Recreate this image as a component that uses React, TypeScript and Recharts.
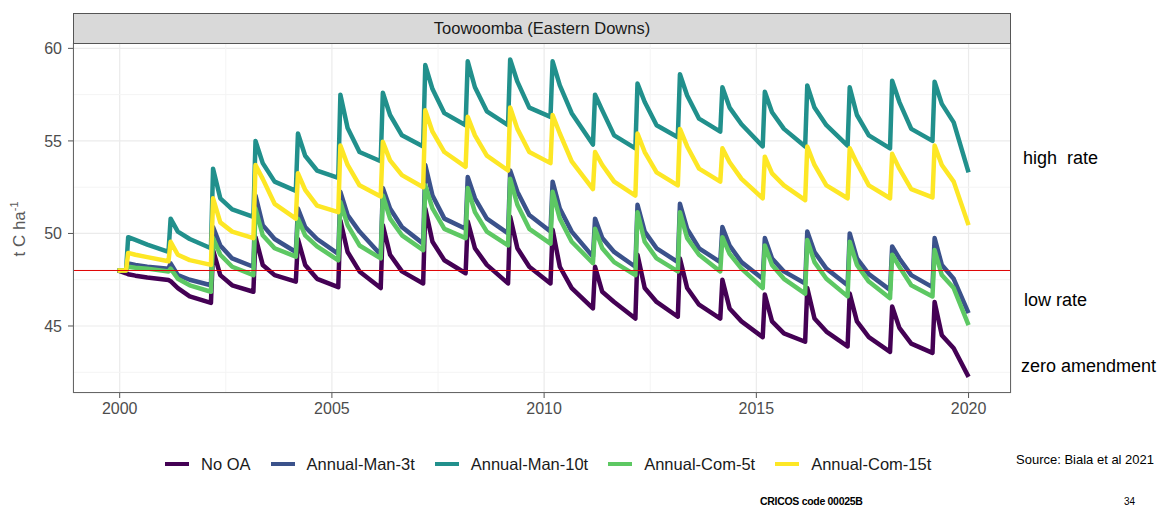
import React from "react";
import { CartesianGrid, Label, Line, LineChart, ReferenceLine, XAxis, YAxis } from "recharts";

// time points (decimal year): start, then per year pre-application, peak, knee, mid-decline; end
const times = [
  1999.95,
  2000.15, 2000.2, 2000.37, 2000.65,
  2001.15, 2001.2, 2001.37, 2001.65,
  2002.15, 2002.2, 2002.37, 2002.65,
  2003.15, 2003.2, 2003.37, 2003.65,
  2004.15, 2004.2, 2004.37, 2004.65,
  2005.15, 2005.2, 2005.37, 2005.65,
  2006.15, 2006.2, 2006.37, 2006.65,
  2007.15, 2007.2, 2007.37, 2007.65,
  2008.15, 2008.2, 2008.37, 2008.65,
  2009.15, 2009.2, 2009.37, 2009.65,
  2010.15, 2010.2, 2010.37, 2010.65,
  2011.15, 2011.2, 2011.37, 2011.65,
  2012.15, 2012.2, 2012.37, 2012.65,
  2013.15, 2013.2, 2013.37, 2013.65,
  2014.15, 2014.2, 2014.37, 2014.65,
  2015.15, 2015.2, 2015.37, 2015.65,
  2016.15, 2016.2, 2016.37, 2016.65,
  2017.15, 2017.2, 2017.37, 2017.65,
  2018.15, 2018.2, 2018.37, 2018.65,
  2019.15, 2019.2, 2019.37, 2019.65,
  2020.0,
];

const noOA = [
  48,
  47.85, 47.8, 47.72, 47.62,
  47.48, 47.42, 47.05, 46.6,
  46.25, 49.1, 47.75, 47.2,
  46.85, 49.8, 48.3, 47.75,
  47.4, 49.7, 48.3, 47.55,
  47.1, 50.7, 49.0, 47.95,
  47.05, 50.45, 48.85, 47.95,
  47.3, 51.35, 49.55, 48.55,
  47.85, 50.65, 49.2, 48.3,
  47.3, 50.9, 49.2, 48.2,
  47.3, 50.2, 48.2, 47.05,
  45.95, 48.2, 46.85, 46.3,
  45.4, 48.85, 47.05, 46.3,
  45.5, 48.65, 47.05, 46.15,
  45.4, 47.5, 45.95, 45.25,
  44.4, 46.7, 45.25, 44.6,
  44.15, 47.05, 45.4, 44.7,
  43.9, 46.75, 45.25, 44.4,
  43.6, 46.05, 44.9, 44.05,
  43.55, 46.3, 44.5, 43.8,
  42.25,
];

const man3t = [
  48,
  48, 48.38, 48.3, 48.2,
  48.1, 48.38, 47.75, 47.5,
  47.2, 50.35, 49.35, 48.65,
  48.2, 52.05, 50.45, 49.7,
  49.0, 51.35, 50.35, 49.7,
  48.9, 52.25, 51.0, 50.1,
  48.85, 52.45, 51.35, 50.35,
  49.45, 53.7, 52.05, 50.8,
  50.25, 53.05, 51.9, 50.8,
  50.0, 53.4, 52.25, 51.0,
  50.1, 52.8, 51.35, 50.1,
  48.75, 50.8, 49.75, 49.0,
  48.2, 51.55, 50.1, 49.2,
  48.45, 51.6, 50.25, 49.2,
  48.45, 50.35, 49.35, 48.45,
  47.55, 49.75, 48.65, 47.95,
  47.3, 50.1, 49.0, 48.1,
  47.2, 50.0, 48.65, 47.8,
  46.95, 49.3, 48.65, 47.75,
  47.1, 49.75, 48.3, 47.55,
  45.7,
];

const man10t = [
  48,
  48, 49.8, 49.65, 49.4,
  49.0, 50.8, 50.1, 49.7,
  49.2, 53.5, 51.9, 51.3,
  50.9, 55.0, 53.8, 52.8,
  52.3, 55.4, 54.2, 53.4,
  53.0, 57.5, 55.7, 54.4,
  53.9, 57.6, 56.4, 55.3,
  54.7, 59.1, 57.8, 56.5,
  55.85, 59.3, 57.9, 56.6,
  55.85, 59.4, 58.2, 56.8,
  56.3, 59.3, 58.0, 56.5,
  54.8, 57.5, 56.65, 55.3,
  54.6, 58.1, 57.1, 55.85,
  55.2, 58.6, 57.45, 56.2,
  55.5, 57.9, 56.8, 55.9,
  54.7, 57.65, 56.55, 55.65,
  54.7, 58.0, 56.8, 55.85,
  54.75, 57.9, 56.4, 55.3,
  54.6, 58.25, 57.1, 55.65,
  55.0, 58.2, 57.0, 56.0,
  53.3,
];

const com5t = [
  48,
  48, 48.2, 48.15, 48.1,
  47.95, 48.1, 47.55, 47.2,
  46.85, 49.75, 48.85, 48.2,
  47.75, 51.35, 49.9, 49.2,
  48.75, 50.8, 49.9, 49.3,
  48.55, 51.7, 50.45, 49.35,
  48.65, 52.05, 50.8, 49.9,
  49.1, 52.6, 51.35, 50.25,
  49.75, 52.45, 51.15, 50.1,
  49.35, 52.95, 51.55, 50.25,
  49.45, 52.25, 50.8, 49.55,
  48.4, 50.25, 49.2, 48.45,
  47.75, 51.15, 49.55, 48.65,
  47.95, 51.15, 49.75, 48.85,
  47.95, 49.8, 48.9, 48.1,
  47.05, 49.35, 48.3, 47.55,
  46.75, 49.65, 48.45, 47.55,
  46.6, 49.55, 48.3, 47.4,
  46.5, 48.85, 48.2, 47.2,
  46.6, 49.1, 47.75, 47.05,
  45.05,
];

const com15t = [
  48,
  48, 48.95, 48.85, 48.72,
  48.5, 49.55, 48.85, 48.56,
  48.3, 51.9, 50.6, 50.1,
  49.75, 53.7, 52.95, 51.6,
  50.8, 53.25, 52.35, 51.5,
  51.15, 54.75, 53.7, 52.6,
  52.0, 54.95, 53.95, 53.15,
  52.5, 56.65, 55.5, 54.4,
  53.6, 56.3, 55.3, 54.2,
  53.4, 56.8, 55.65, 54.4,
  53.8, 56.4, 55.4, 53.9,
  52.4, 54.4, 53.7, 52.8,
  52.05, 55.4, 54.4, 53.3,
  52.6, 55.65, 54.7, 53.5,
  52.8, 54.6, 53.85, 52.95,
  51.9, 54.15, 53.25, 52.6,
  51.8, 54.7, 53.7, 52.6,
  51.9, 54.6, 53.8, 52.6,
  51.9, 54.3, 53.5, 52.4,
  51.95, 54.75, 53.7, 52.8,
  50.45,
];

const seriesNames = ["No OA", "Annual-Man-3t", "Annual-Man-10t", "Annual-Com-5t", "Annual-Com-15t"];
const seriesKeys = ["noOA", "man3t", "man10t", "com5t", "com15t"];
const seriesColors = ["#440154", "#3b528b", "#21908c", "#5dc863", "#fde725"];

const xTicks = [2000, 2005, 2010, 2015, 2020];
const yTicks = [45, 50, 55, 60];
const xMinor = [2002.5, 2007.5, 2012.5, 2017.5];
const yMinor = [42.5, 47.5, 52.5, 57.5];
const baseline = 48;

const data = times.map((t, i) => ({
  t,
  noOA: noOA[i],
  man3t: man3t[i],
  man10t: man10t[i],
  com5t: com5t[i],
  com15t: com15t[i],
}));

const font = "'Liberation Sans', Arial, sans-serif";

const YLabel = () => (
  <text
    x={25}
    y={229}
    transform="rotate(-90, 25, 229)"
    textAnchor="middle"
    fill="#5a5a5a"
    fontSize={17}
    fontFamily={font}
  >
    t C ha
    <tspan dy={-7} fontSize={11}>-1</tspan>
  </text>
);

export default function App() {
  return (
    <div
      style={{
        position: "fixed",
        left: 0,
        top: 0,
        width: 1173,
        height: 509,
        overflow: "hidden",
        background: "#fff",
        fontFamily: font,
      }}
    >
      <div style={{ position: "absolute", left: 0, top: 0 }}>
        <LineChart width={1173} height={509} data={data} margin={{ top: 43, right: 162, bottom: 86, left: 13 }}>
          <CartesianGrid stroke="#ebebeb" strokeWidth={1.2} />
          {xMinor.map((v) => (
            <ReferenceLine key={"x" + v} x={v} stroke="#f4f4f4" strokeWidth={1} />
          ))}
          {yMinor.map((v) => (
            <ReferenceLine key={"y" + v} y={v} stroke="#f4f4f4" strokeWidth={1} />
          ))}
          <XAxis
            dataKey="t"
            type="number"
            domain={[1998.9, 2021.0]}
            ticks={xTicks}
            allowDataOverflow
            height={30}
            axisLine={false}
            tickSize={5}
            tickMargin={5}
            tickLine={{ stroke: "#555" }}
            tick={{ fontSize: 16, fill: "#4d4d4d", fontFamily: font }}
          />
          <YAxis
            type="number"
            domain={[41.38, 60.29]}
            ticks={yTicks}
            allowDataOverflow
            width={60}
            axisLine={false}
            tickSize={5}
            tickMargin={6}
            tickLine={{ stroke: "#555" }}
            tick={{ fontSize: 16, fill: "#4d4d4d", fontFamily: font }}
          >
            <Label content={YLabel} />
          </YAxis>
          {seriesKeys.map((k, i) => (
            <Line
              key={k}
              dataKey={k}
              name={seriesNames[i]}
              type="linear"
              stroke={seriesColors[i]}
              strokeWidth={4.5}
              strokeLinejoin="round"
              dot={false}
              isAnimationActive={false}
            />
          ))}
          <ReferenceLine y={baseline} stroke="#e00000" strokeWidth={1} />
        </LineChart>
      </div>

      {/* panel border */}
      <div
        style={{
          position: "absolute",
          left: 73,
          top: 43,
          width: 938,
          height: 350,
          border: "1px solid #666",
          boxSizing: "border-box",
          pointerEvents: "none",
        }}
      />
      {/* facet strip */}
      <div
        style={{
          position: "absolute",
          left: 73,
          top: 13,
          width: 938,
          height: 31,
          background: "#d9d9d9",
          border: "1px solid #555",
          boxSizing: "border-box",
          display: "flex",
          alignItems: "center",
          justifyContent: "center",
          fontSize: 16.5,
          color: "#1a1a1a",
        }}
      >
        Toowoomba (Eastern Downs)
      </div>

      {/* legend */}
      <div
        style={{
          position: "absolute",
          left: 165,
          top: 454,
          height: 20,
          display: "flex",
          alignItems: "center",
          fontSize: 16.5,
          color: "#1a1a1a",
          whiteSpace: "nowrap",
        }}
      >
        {seriesNames.map((n, i) => (
          <div key={n} style={{ display: "flex", alignItems: "center", marginRight: 20 }}>
            <div style={{ width: 24, height: 4.5, background: seriesColors[i], marginRight: 12 }} />
            <span>{n}</span>
          </div>
        ))}
      </div>

      {/* side annotations */}
      <div style={{ position: "absolute", left: 1023, top: 149, fontSize: 18, lineHeight: "18px", color: "#000", whiteSpace: "pre" }}>
        {"high  rate"}
      </div>
      <div style={{ position: "absolute", left: 1024, top: 291, fontSize: 18, lineHeight: "18px", color: "#000" }}>
        low rate
      </div>
      <div style={{ position: "absolute", left: 1021, top: 357, fontSize: 18, lineHeight: "18px", color: "#000" }}>
        zero amendment
      </div>
      <div style={{ position: "absolute", left: 1016, top: 453, fontSize: 13, lineHeight: "13px", color: "#000" }}>
        Source: Biala et al 2021
      </div>
      <div style={{ position: "absolute", left: 760, top: 495, fontSize: 10.5, lineHeight: "12px", fontWeight: 700, color: "#000", letterSpacing: -0.3 }}>
        CRICOS code 00025B
      </div>
      <div style={{ position: "absolute", left: 1124, top: 497, fontSize: 10, lineHeight: "10px", color: "#000" }}>
        34
      </div>
    </div>
  );
}
